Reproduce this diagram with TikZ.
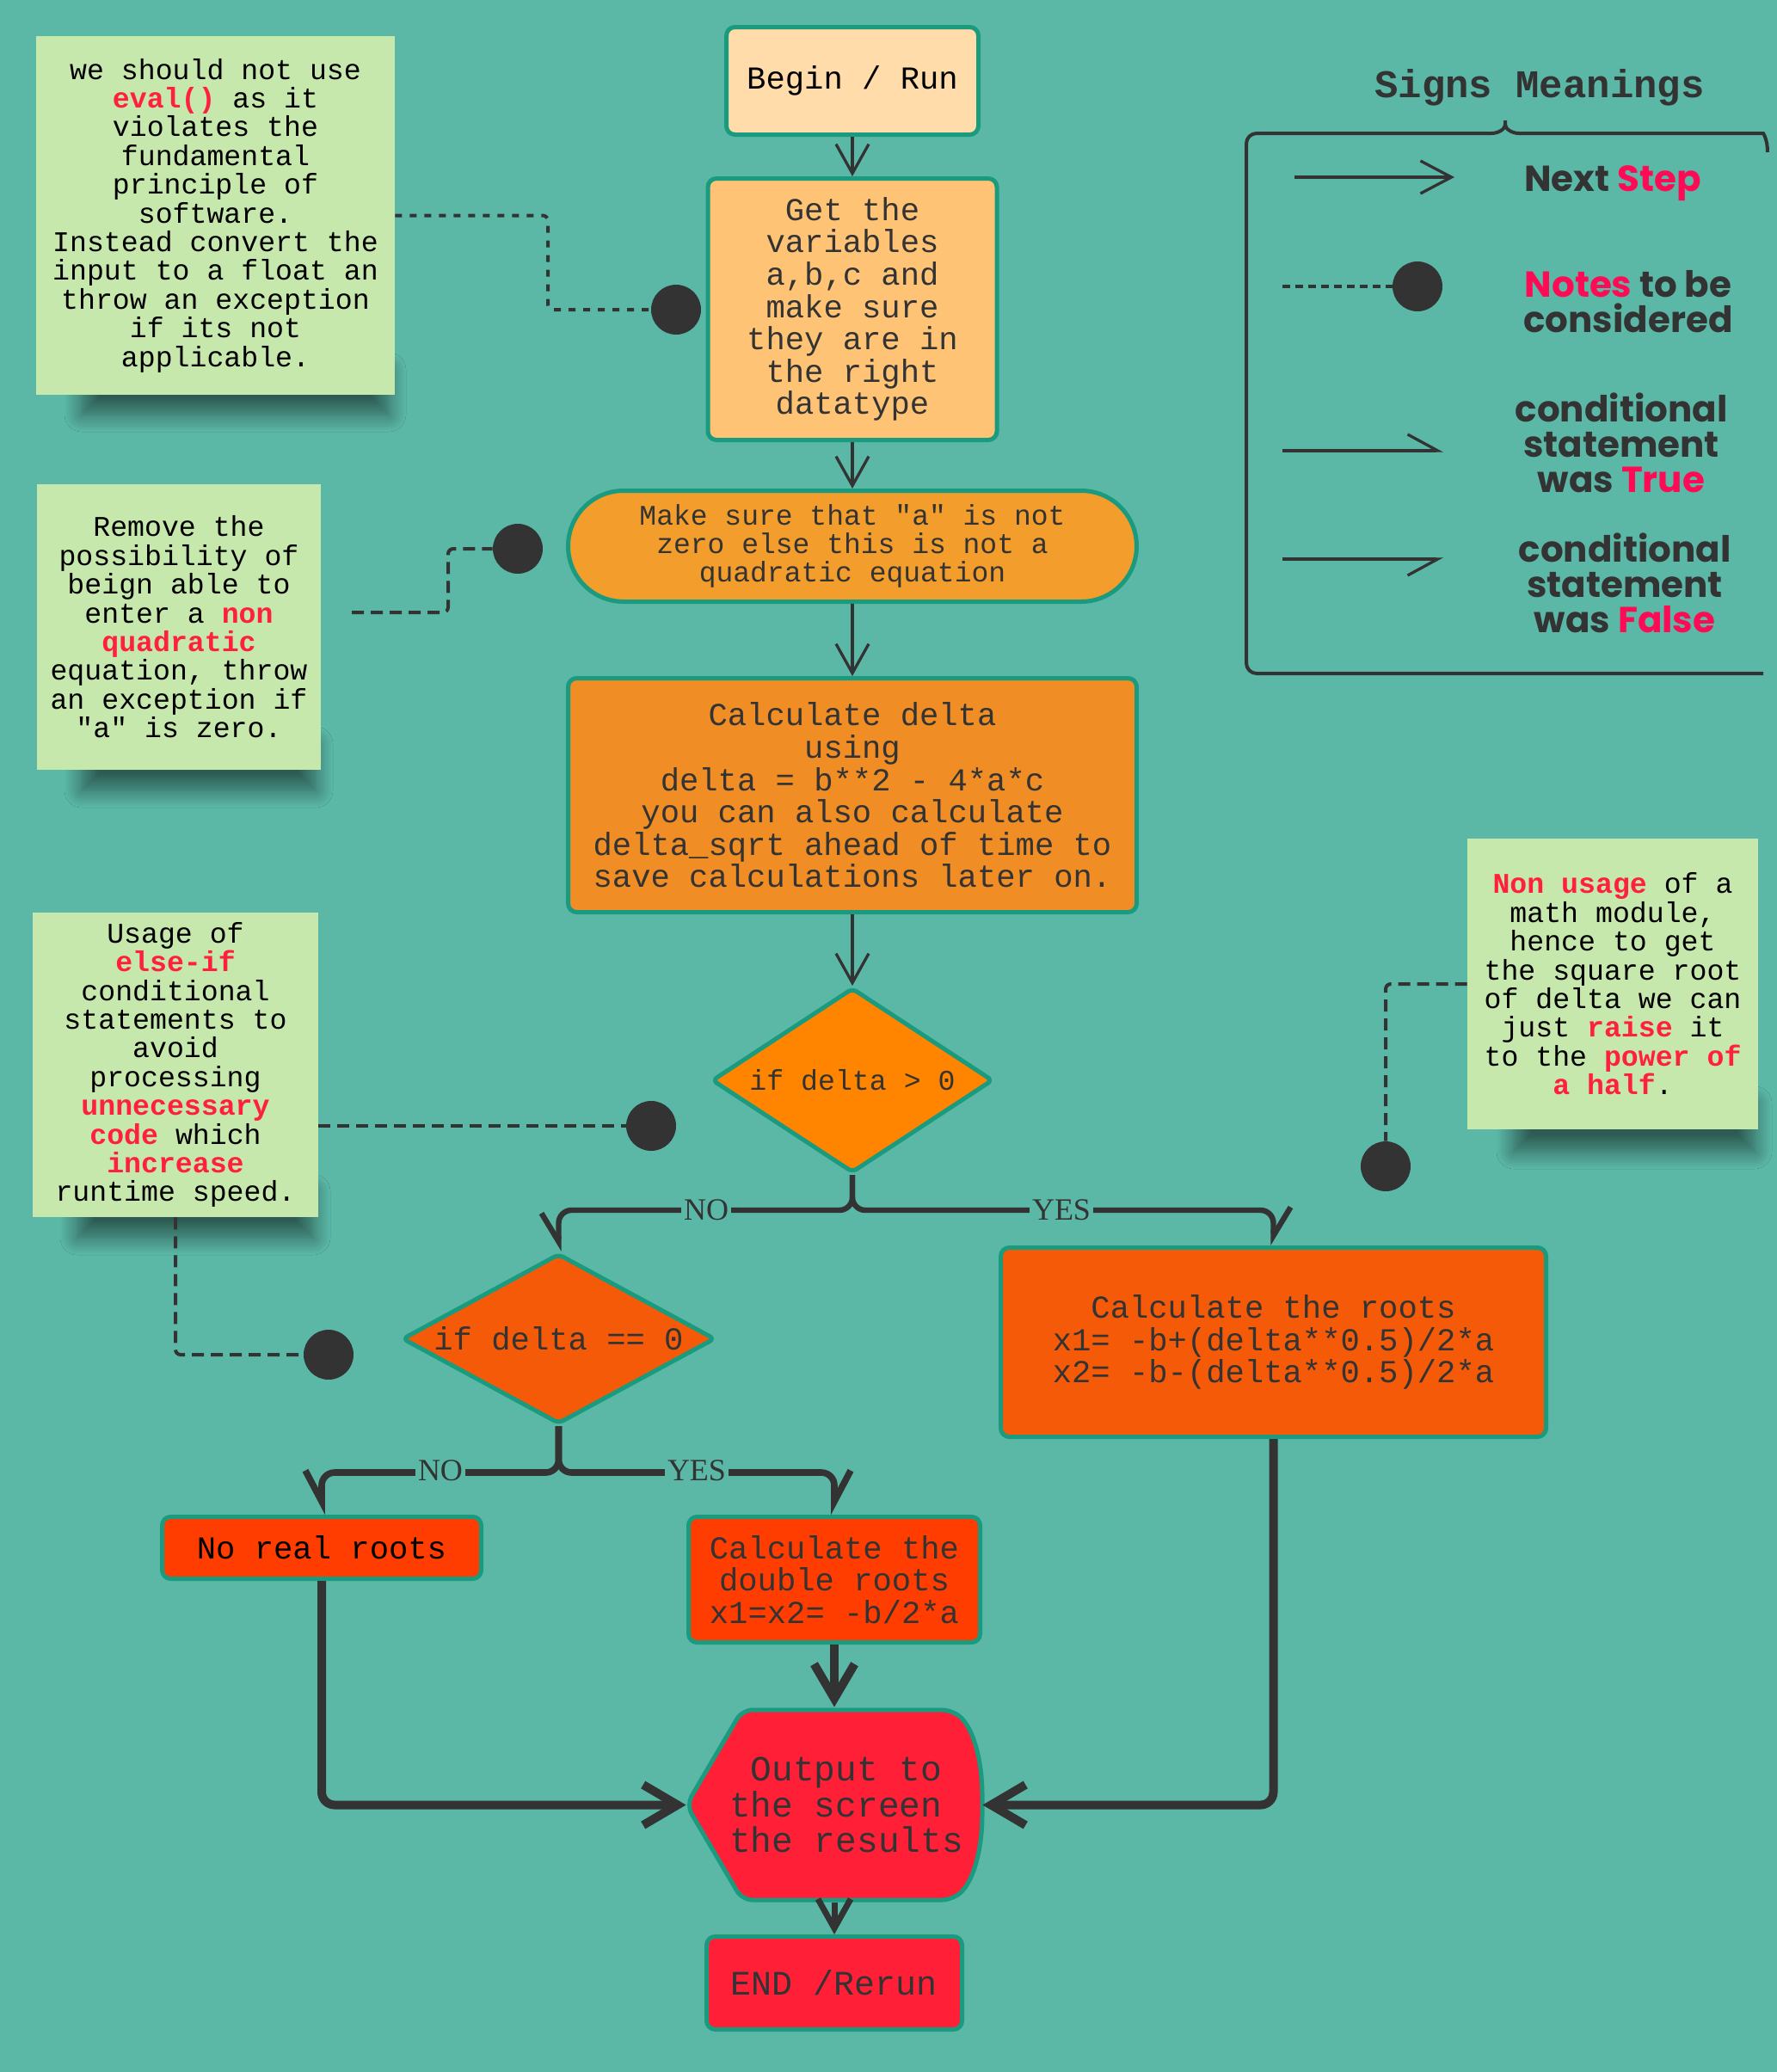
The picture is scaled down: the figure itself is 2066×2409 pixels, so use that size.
\documentclass[tikz,border=0pt]{standalone}
\usepackage{fontspec}
\setmainfont{Liberation Serif}
\setmonofont{Liberation Mono}
\newfontfamily\legendfont{Poppins}
\usetikzlibrary{arrows.meta,shapes.geometric,shapes.misc,calc,shadows.blur}

\definecolor{bg}{HTML}{5BB8A7}
\definecolor{notebg}{HTML}{C7E8AC}
\definecolor{edge}{HTML}{1A9A7E}
\definecolor{ink}{HTML}{333333}
\definecolor{notered}{HTML}{FF2040}
\definecolor{legred}{HTML}{FF0A55}
\definecolor{cbegin}{HTML}{FFDCA9}
\definecolor{cget}{HTML}{FFC376}
\definecolor{cmake}{HTML}{F39D2D}
\definecolor{cdelta}{HTML}{F08D24}
\definecolor{cdone}{HTML}{FF8500}
\definecolor{cdtwo}{HTML}{F45A07}
\definecolor{cnoreal}{HTML}{FF3D00}
\definecolor{cout}{HTML}{FF1F37}

\newcommand\fnode{\ttfamily\fontsize{18.6}{18.8}\selectfont}
\newcommand\fnote{\ttfamily\fontsize{16.6}{16.7}\selectfont}
\newcommand\hot[1]{\textcolor{notered}{\bfseries #1}}
% zero-width text so the diamond size comes from its minimum width/height only
\newcommand\thin[1]{\makebox[0pt][c]{#1}}

\tikzset{
  box/.style={draw=edge, line width=2.5pt, rounded corners=5pt, align=center,
    text=ink, font=\fnode, inner sep=0pt},
  decision/.style={diamond, draw=edge, line width=2.5pt, rounded corners=3pt,
    text=ink, font=\fnode, inner sep=0pt},
  note/.style={fill=notebg, align=center, text=black, font=\fnote, inner sep=0pt},
  noteshadow/.style={blur shadow={shadow xshift=0pt, shadow yshift=0pt,
    shadow blur radius=10pt, shadow opacity=50, shadow blur steps=12}},
  dotc/.style={circle, fill=ink, minimum size=29pt, inner sep=0pt},
  dotline/.style={draw=ink, line width=2pt, dash pattern=on 4pt off 4.5pt, rounded corners=3pt},
  dashline/.style={draw=ink, line width=2pt, dash pattern=on 7pt off 4pt, rounded corners=3pt},
  flow/.style={draw=ink, line width=1.65pt, -{Straight Barb[length=17pt,width=19pt]}},
  truebr/.style={draw=ink, line width=3.2pt, rounded corners=7.5pt,
    -{Straight Barb[left,length=16.5pt,width=20pt]}},
  falsebr/.style={draw=ink, line width=3.2pt, rounded corners=7.5pt,
    -{Straight Barb[right,length=16.5pt,width=20pt]}},
  truebrb/.style={truebr, line width=3.8pt, -{Straight Barb[left,length=18pt,width=19pt]}},
  falsebrb/.style={falsebr, line width=3.8pt, -{Straight Barb[right,length=18pt,width=19pt]}},
  heavy/.style={draw=ink, line width=5pt, rounded corners=7.5pt,
    -{Straight Barb[length=20pt,width=23.5pt]}},
  medium/.style={draw=ink, line width=3.5pt, -{Straight Barb[length=17pt,width=19pt]}},
  lab/.style={fill=bg, text=ink, font=\rmfamily\fontsize{18}{18}\selectfont, inner sep=1.5pt},
  legline/.style={draw=ink, line width=2pt, rounded corners=6pt},
  legarrow/.style={draw=ink, line width=1.65pt, -{Straight Barb[length=18pt,width=19pt]}},
  legtrue/.style={draw=ink, line width=1.65pt, -{Straight Barb[left,length=17.5pt,width=19pt]}},
  legfalse/.style={draw=ink, line width=1.65pt, -{Straight Barb[right,length=17.5pt,width=19pt]}},
  legtext/.style={align=center, text=ink, font=\legendfont\bfseries\fontsize{21}{20.5}\selectfont, inner sep=0pt},
}

\begin{document}
\begin{tikzpicture}[x=0.5pt,y=-0.5pt]
\fill[bg] (0,0) rectangle (2066,2409);
\useasboundingbox (0,0) rectangle (2066,2409);

% soft shadows under the sticky notes
\path[noteshadow] (95,430) rectangle (452,482);
\path[noteshadow] (95,865) rectangle (367,919);
\path[noteshadow] (90,1385) rectangle (364,1439);
\path[noteshadow] (1760,1283) rectangle (2040,1339);

% sticky notes
\node[note, minimum width=208.5pt, minimum height=208.5pt] (n1) at (250.5,250.5)
  {we should not use\\ \hot{eval()} as it\\violates the\\fundamental\\principle of\\software.\\Instead convert the\\input to a float an\\throw an exception\\if its not\\applicable.};
\node[note, minimum width=165pt, minimum height=166pt] (n2) at (208,729)
  {Remove the\\possibility of\\beign able to\\enter a \hot{non}\\\hot{quadratic}\\equation, throw\\an exception if\\"a" is zero.};
\node[note, minimum width=166pt, minimum height=177pt] (n3) at (204,1238)
  {Usage of\\\hot{else-if}\\conditional\\statements to\\avoid\\processing\\\hot{unnecessary}\\\hot{code} which\\\hot{increase}\\runtime speed.};
\node[note, minimum width=169pt, minimum height=169pt] (n4) at (1875,1144)
  {\hot{Non usage} of a\\math module,\\hence to get\\the square root\\of delta we can\\just \hot{raise} it\\to the \hot{power of}\\\hot{a half}.};

% main flow
\node[box, fill=cbegin, text=black, minimum width=146.5pt, minimum height=62.5pt] (begin) at (991,94) {Begin / Run};
\node[box, fill=cget, minimum width=168pt, minimum height=152pt] (get) at (991,359.5)
  {Get the\\variables\\a,b,c and\\make sure\\they are in\\the right\\datatype};
\node[rounded rectangle, draw=edge, line width=2.5pt, fill=cmake, align=center, text=ink,
  font=\ttfamily\fontsize{16.5}{16.5}\selectfont, inner sep=0pt,
  minimum width=330.5pt, minimum height=64.5pt] (make) at (991,635)
  {Make sure that "a" is not\\zero else this is not a\\quadratic equation};
\node[box, fill=cdelta, minimum width=330.5pt, minimum height=136pt] (delta) at (991,924.5)
  {Calculate delta\\using\\delta = b**2 - 4*a*c\\you can also calculate\\delta\_sqrt ahead of time to\\save calculations later on.};
\node[decision, fill=cdone, font=\ttfamily\fontsize{16.6}{16.6}\selectfont,
  minimum width=163.5pt, minimum height=107.5pt] (d1) at (991,1256) {\thin{if delta > 0}};
\node[decision, fill=cdtwo, minimum width=182pt, minimum height=99pt] (d2) at (649.5,1556.5) {\thin{if delta == 0}};
\node[box, fill=cdtwo, minimum width=317pt, minimum height=110pt] (roots) at (1480.5,1560.5)
  {Calculate the roots\\x1= -b+(delta**0.5)/2*a\\x2= -b-(delta**0.5)/2*a};
\node[box, fill=cnoreal, text=black, minimum width=185.5pt, minimum height=36pt] (noreal) at (374,1799.5) {No real roots};
\node[box, fill=cnoreal, minimum width=169.5pt, minimum height=73pt] (double) at (970,1836.5)
  {Calculate the\\double roots\\x1=x2= -b/2*a};

% output shape: pointed on the left, bulging on the right
\coordinate (oc) at (970,2098.5);
\draw[draw=edge, line width=2.5pt, fill=cout, rounded corners=6pt]
  ($(oc)+(-172,0)$) -- ($(oc)+(-107,-110.5)$) -- ($(oc)+(137,-110.5)$)
  .. controls ($(oc)+(163,-88)$) and ($(oc)+(172,-48)$) .. ($(oc)+(172,0)$)
  .. controls ($(oc)+(172,48)$) and ($(oc)+(163,88)$) .. ($(oc)+(137,110.5)$)
  -- ($(oc)+(-107,110.5)$) -- cycle;
\node[minimum width=172pt, minimum height=113.5pt, inner sep=0pt] (out) at (oc) {};
\node[align=left, text=ink, font=\ttfamily\fontsize{20.6}{20.7}\selectfont, inner sep=0pt]
  (outtext) at (984,2098.5) {\hphantom{x}Output to\\the screen\\the results};
\node[box, fill=cout, font=\ttfamily\fontsize{20}{20}\selectfont,
  minimum width=148.5pt, minimum height=54pt] (end) at (970,2305.5) {END /Rerun};

% note markers
\node[dotc] (p1) at (786,360) {};
\node[dotc] (p2) at (602,638) {};
\node[dotc] (p3) at (757,1309) {};
\node[dotc] (p4) at (382,1575) {};
\node[dotc] (p5) at (1611,1356) {};
\coordinate (s2) at (409,712);

\draw[dotline] (n1.east) -- (637,250.5) |- (p1);
\draw[dashline] (s2) -- (521,712) |- (p2);
\draw[dashline] (n3.east |- p3) -- (p3);
\draw[dashline] (n3.south) |- (p4);
\draw[dashline] (n4.west) -| (p5);

% connectors
\draw[flow] (begin.south) -- (get.north);
\draw[flow] (get.south) -- (make.north);
\draw[flow] (make.south) -- (delta.north);
\draw[flow] (delta.south) -- (d1.north);

\draw[falsebr] (d1.south) -- ++(0,41) -| (d2.north);
\draw[truebr] (d1.south) -- ++(0,41) -| (roots.north);
\node[lab] (no1) at (821,1407) {NO};
\node[lab] (yes1) at (1234,1407) {YES};

\draw[falsebrb] (d2.south) -- ++(0,54) -| (noreal.north);
\draw[truebrb] (d2.south) -- ++(0,54) -| (double.north);
\node[lab] (no2) at (512,1710) {NO};
\node[lab] (yes2) at (810,1710) {YES};

\draw[heavy] (noreal.south) |- (out.west);
\draw[heavy] (roots.south) |- (out.east);
\draw[heavy] (double.south) -- (out.north);
\draw[medium] (out.south) -- (end.north);

% legend
\node[text=ink, font=\ttfamily\bfseries\fontsize{22.8}{24}\selectfont] (ttl) at (1790,102) {Signs Meanings};
\draw[legline] (2050,783) -- (1449,783) -- (1449,155) -- (1722,155)
  .. controls (1742,155) and (1750,150) .. (1750,133)
  .. controls (1750,150) and (1758,155) .. (1778,155) -- (2038,155)
  .. controls (2050,155) and (2055,162) .. (2055,177);

\coordinate (l1s) at (1505,206);
\coordinate (l1e) at (1691,206);
\draw[legarrow] (l1s) -- (l1e);
\node[dotc] (ldot) at (1648,333) {};
\coordinate (l2s) at (1491,333);
\draw[draw=ink, line width=2pt, dash pattern=on 4.5pt off 3pt] (l2s) -- (ldot);
\coordinate (l3s) at (1491,524);
\coordinate (l3e) at (1678,524);
\draw[legtrue] (l3s) -- (l3e);
\coordinate (l4s) at (1491,650);
\coordinate (l4e) at (1678,650);
\draw[legfalse] (l4s) -- (l4e);

\node[legtext] (t1) at (1875,213) {Next \textcolor{legred}{Step}};
\node[legtext] (t2) at (1893,351) {\textcolor{legred}{Notes} to be\\considered};
\node[legtext] (t3) at (1885,515) {conditional\\statement\\was \textcolor{legred}{True}};
\node[legtext] (t4) at (1889,678) {conditional\\statement\\was \textcolor{legred}{False}};
\end{tikzpicture}
\end{document}
